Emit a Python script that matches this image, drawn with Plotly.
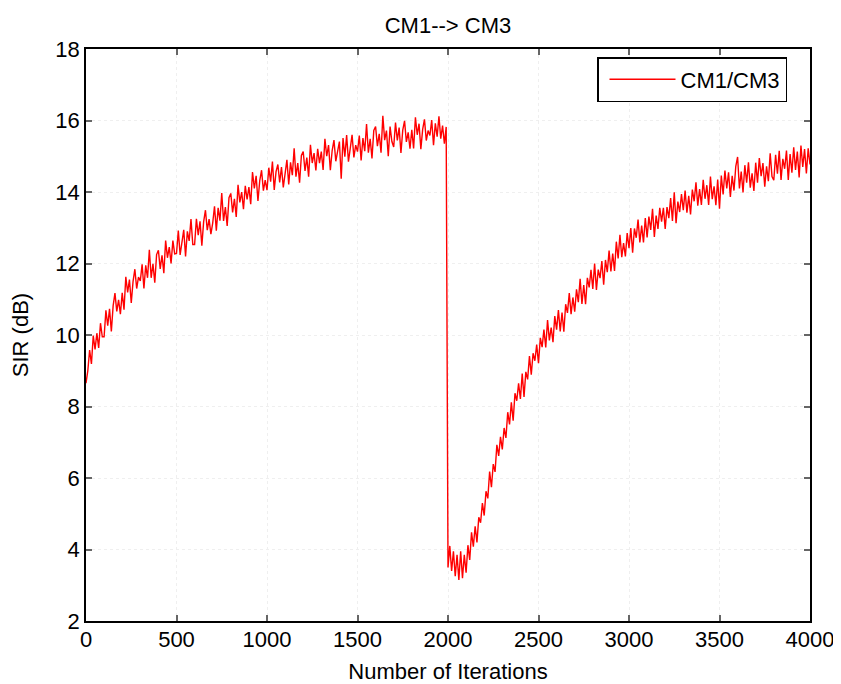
import plotly.graph_objects as go

# SIR (dB) sampled every 10 iterations: 0..1990 before the switch, 2000..4000 after
sir_before = [
    8.65, 9.00, 9.58, 9.19, 9.98, 9.60, 10.05, 9.64, 10.33, 9.95,
    9.95, 10.69, 10.26, 10.73, 10.10, 10.82, 11.17, 10.66, 10.98, 10.58,
    11.18, 10.71, 11.63, 11.19, 11.55, 10.90, 11.50, 11.84, 11.30, 11.62,
    11.51, 11.98, 11.30, 11.95, 11.60, 12.38, 11.60, 11.99, 11.46, 12.25,
    12.37, 11.85, 12.23, 11.73, 12.64, 12.16, 12.46, 12.00, 12.64, 12.27,
    12.28, 12.92, 12.24, 12.65, 12.94, 12.20, 12.90, 12.63, 13.24, 12.53,
    12.53, 13.25, 12.79, 13.18, 12.50, 13.17, 13.49, 12.93, 13.24, 12.82,
    13.13, 13.60, 12.92, 13.56, 13.20, 13.97, 13.19, 13.58, 13.05, 13.84,
    13.96, 13.43, 13.81, 13.30, 14.20, 13.71, 14.00, 13.52, 14.17, 13.79,
    14.14, 13.66, 14.56, 14.10, 14.45, 13.75, 14.32, 14.61, 14.04, 14.33,
    14.05, 14.68, 14.29, 14.85, 14.06, 14.57, 14.77, 14.27, 14.70, 14.13,
    14.46, 14.90, 14.21, 14.83, 14.47, 15.22, 14.43, 14.81, 14.26, 15.02,
    15.13, 14.59, 14.96, 14.43, 15.32, 14.81, 15.09, 14.60, 15.21, 14.81,
    15.13, 14.62, 15.49, 15.00, 15.31, 14.61, 15.16, 15.45, 14.86, 15.14,
    15.41, 14.37, 15.51, 14.99, 15.59, 14.85, 15.27, 15.60, 14.97, 15.31,
    15.13, 15.58, 14.88, 15.51, 15.14, 15.90, 15.10, 15.49, 14.94, 15.72,
    15.83, 15.28, 15.63, 15.10, 16.13, 15.45, 15.72, 15.00, 15.83, 15.41,
    15.26, 15.94, 15.44, 15.80, 15.09, 15.73, 15.99, 15.40, 15.67, 15.21,
    15.74, 15.22, 16.09, 15.60, 15.91, 15.20, 15.75, 16.03, 15.44, 15.72,
    15.58, 16.01, 15.31, 15.92, 15.55, 16.12, 15.49, 15.86, 15.35, 15.82,
]

sir_after = [
    3.50, 4.10, 3.40, 3.95, 3.25, 3.85, 3.15, 3.95, 3.20, 3.85,
    3.35, 4.12, 3.71, 4.48, 4.08, 4.65, 4.20, 4.90, 4.75, 5.30,
    4.95, 5.63, 5.43, 6.18, 5.74, 6.39, 6.17, 6.93, 6.62, 7.15,
    6.80, 7.40, 7.12, 7.84, 7.50, 8.12, 7.60, 8.37, 8.16, 8.65,
    8.21, 8.92, 8.27, 8.97, 8.76, 9.41, 8.89, 9.49, 9.28, 9.73,
    9.21, 9.92, 9.66, 10.15, 9.65, 10.42, 9.85, 10.21, 9.80, 10.53,
    10.15, 10.70, 10.10, 10.63, 10.09, 10.86, 10.62, 11.17, 10.58, 11.05,
    10.65, 11.28, 10.92, 11.57, 10.87, 11.40, 10.86, 11.60, 11.33, 11.82,
    11.29, 12.00, 11.26, 11.83, 11.59, 12.07, 11.41, 12.10, 11.76, 12.36,
    11.78, 12.28, 11.79, 12.61, 12.14, 12.80, 12.18, 12.57, 12.20, 12.85,
    12.43, 12.99, 12.30, 12.98, 12.72, 13.23, 12.59, 13.06, 12.59, 13.27,
    12.73, 13.31, 12.94, 13.53, 12.74, 13.34, 12.97, 13.56, 13.17, 13.56,
    12.97, 13.58, 13.27, 13.83, 13.19, 13.99, 13.13, 13.73, 13.44, 13.94,
    13.49, 14.04, 13.42, 13.89, 13.37, 14.07, 13.74, 14.27, 13.62, 14.08,
    13.64, 14.34, 13.81, 14.19, 13.64, 14.43, 13.80, 14.16, 13.63, 14.35,
    13.53, 14.46, 13.93, 14.60, 14.10, 14.55, 13.86, 14.45, 14.04, 14.72,
    14.98, 14.10, 14.57, 13.99, 14.75, 14.26, 14.83, 14.12, 14.52, 14.03,
    14.82, 14.26, 14.95, 14.44, 14.81, 14.15, 14.72, 14.30, 15.08, 14.43,
    14.33, 15.04, 14.51, 15.15, 14.34, 14.93, 14.65, 15.16, 14.34, 15.06,
    14.54, 15.25, 14.62, 15.13, 14.41, 15.30, 14.70, 15.20, 14.52, 15.22,
    14.77,
]

sir = sir_before + sir_after
iterations = list(range(0, 10 * len(sir), 10))

x_ticks = [0, 500, 1000, 1500, 2000, 2500, 3000, 3500, 4000]
y_ticks = [2, 4, 6, 8, 10, 12, 14, 16, 18]

FONT = "Liberation Sans, Arial, sans-serif"
FS = 22

# page has an 8px body margin, so the figure is sized to fit the 841x684 window
W, H = 833, 676

fig = go.Figure()
fig.add_trace(go.Scatter(
    x=iterations, y=sir, mode="lines", name="CM1/CM3",
    line=dict(color="#ff0000", width=1.4),
))

axis_common = dict(
    showline=True, linecolor="black", linewidth=1.5, mirror="ticks",
    ticks="inside", ticklen=6, tickwidth=1.5, tickcolor="#666666",
    showgrid=True, gridcolor="#efefef", griddash="dot", gridwidth=1,
    zeroline=False, automargin=False,
    tickfont=dict(family=FONT, size=FS, color="black"),
)

fig.update_layout(
    width=W, height=H,
    margin=dict(l=78, r=31, t=41, b=63),
    paper_bgcolor="white", plot_bgcolor="white",
    font=dict(family=FONT, color="black"),
    title=dict(text="CM1--> CM3", x=440 / W, xanchor="center",
               y=1 - 17 / H, yanchor="middle", yref="container",
               font=dict(family=FONT, size=FS, color="black")),
    xaxis=dict(range=[0, 4000], tickvals=x_ticks, ticklabelstandoff=-2,
               title=dict(text="Number of Iterations", standoff=15,
                          font=dict(family=FONT, size=FS)),
               **axis_common),
    yaxis=dict(range=[2, 18], tickvals=y_ticks, ticklabelstandoff=0,
               title=dict(text="SIR (dB)", standoff=22,
                          font=dict(family=FONT, size=FS)),
               **axis_common),
    legend=dict(x=(787 - 86) / 724, y=(621 - 57) / 572, xanchor="right", yanchor="top",
                bgcolor="white", bordercolor="black", borderwidth=1.5,
                itemwidth=66, indentation=6,
                font=dict(family=FONT, size=FS, color="black")),
    showlegend=True,
)

fig.write_html("out.html")
